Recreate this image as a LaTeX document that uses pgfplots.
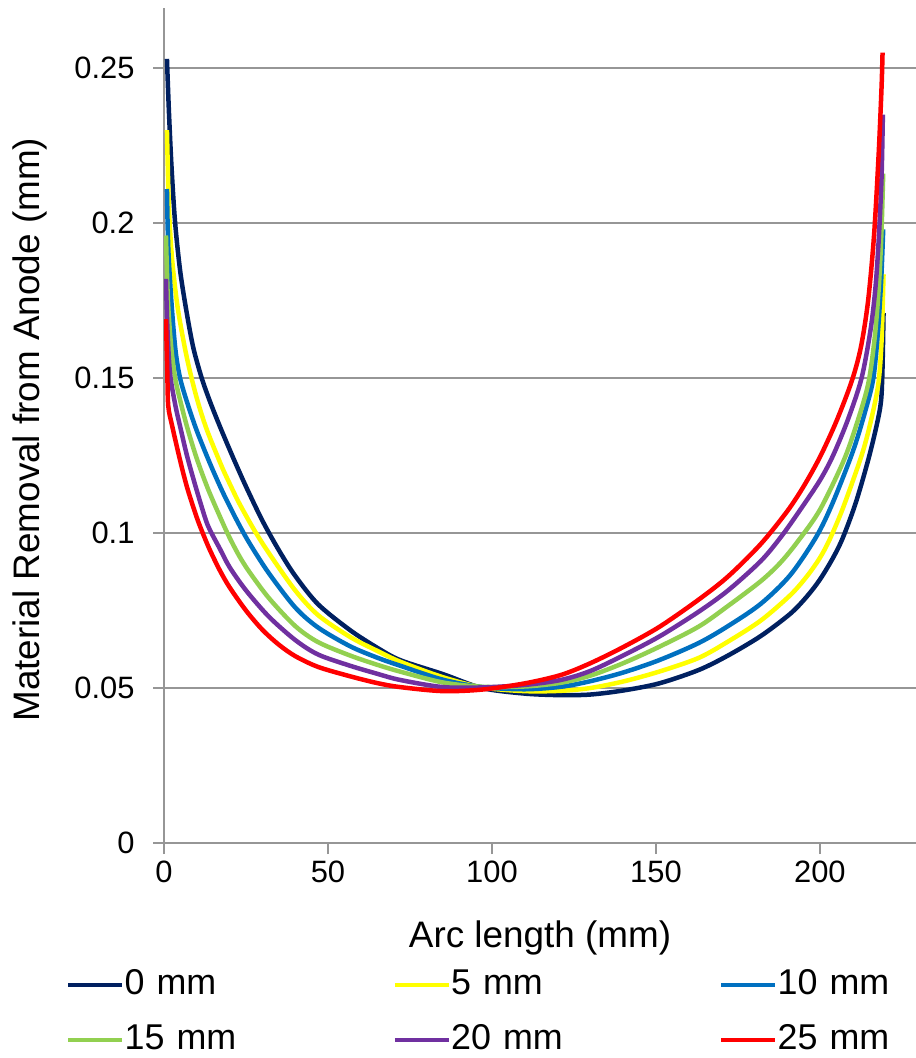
\documentclass[border=0pt]{standalone}
\usepackage{pgfplots}
\pgfplotsset{compat=1.18}
\usepackage{fontspec}
\setmainfont{Liberation Sans}
\definecolor{c0}{RGB}{0,32,96}
\definecolor{c5}{RGB}{255,255,0}
\definecolor{c10}{RGB}{0,112,192}
\definecolor{c15}{RGB}{146,208,80}
\definecolor{c20}{RGB}{112,48,160}
\definecolor{c25}{RGB}{255,0,0}
\definecolor{gridgray}{RGB}{150,150,150}
\begin{document}
\begin{tikzpicture}
\useasboundingbox (0,0) rectangle (916bp,1058bp);
\begin{axis}[
 at={(164bp,215bp)}, anchor=south west,
 scale only axis, width=752bp, height=835bp,
 xmin=0, xmax=229.3, ymin=0, ymax=0.2694,
 axis x line*=bottom, axis y line*=left,
 axis line style={draw=gridgray, line width=1.5bp},
 xtick={0,50,100,150,200},
 ytick={0,0.05,0.1,0.15,0.2,0.25},
 ymajorgrids, major grid style={draw=gridgray, line width=1.5bp},
 tick align=outside, major tick length=11bp,
 tick style={draw=gridgray, line width=1.5bp},
 ticklabel style={font=\fontsize{31}{37}\selectfont},
 /pgf/number format/assume math mode=true,
 yticklabel style={/pgf/number format/fixed, /pgf/number format/precision=2, xshift=-15bp},
 xticklabel style={yshift=-3bp},
 xlabel={Arc length (mm)}, ylabel={Material Removal from Anode (mm)},
 every axis x label/.style={at={(axis description cs:0.5,-0.114)}, anchor=center, font=\fontsize{37}{44}\selectfont},
 every axis y label/.style={at={(axis description cs:-0.178,0.495)}, rotate=90, anchor=center, font=\fontsize{37}{44}\selectfont},
 legend columns=3,
 legend style={draw=none, fill=none, at={(axis description cs:-0.1303,-0.150)}, anchor=north west, inner sep=0pt, font=\fontsize{36}{43}\selectfont, nodes={inner sep=0pt, text width=268bp, text height=26bp, text depth=7bp, align=left}, /tikz/row sep=22bp},
 legend cell align=left,
 legend image code/.code={\draw[#1] (0bp,0bp) -- (54bp,0bp);},
]
\addplot[c0, line width=4.5bp, smooth, tension=0.5] coordinates {(0.9,0.253) (1.5,0.236) (2.3,0.218) (3.4,0.200) (5,0.184) (7.1,0.170) (9,0.1595) (11.5,0.150) (14,0.1425) (17,0.1345) (21,0.1245) (25,0.1150) (30,0.1040) (35,0.0945) (40,0.0862) (47,0.0770) (56.7,0.0687) (65,0.063) (72,0.059) (85,0.0545) (97,0.050) (110,0.0482) (121,0.0477) (130,0.0479) (140,0.0492) (151,0.0515) (163,0.0558) (172,0.0605) (182,0.0668) (191,0.0740) (196,0.0795) (200,0.0850) (204,0.0920) (207,0.0985) (211,0.1100) (215.2,0.1255) (218.3,0.1400) (219,0.150) (219.4,0.171)};
\addlegendentry{0 mm}
\addplot[c5, line width=4.5bp, smooth, tension=0.5] coordinates {(0.9,0.230) (1.5,0.205) (2.5,0.188) (4,0.174) (5.5,0.1645) (7.4,0.1545) (10,0.1435) (13,0.1335) (17.6,0.1215) (20,0.1160) (23,0.1095) (27.5,0.1010) (32,0.0935) (40,0.0815) (47,0.0735) (56.7,0.0665) (65,0.0620) (72,0.0585) (85,0.0535) (97,0.0502) (110,0.0490) (121,0.0491) (130,0.0500) (140,0.0521) (151,0.0553) (163,0.0597) (172,0.0650) (182,0.0718) (191,0.0800) (196,0.0860) (200,0.0920) (203,0.0980) (207,0.1080) (212.7,0.1250) (215.5,0.1360) (217.8,0.1480) (218.8,0.1620) (219.4,0.1835)};
\addlegendentry{5 mm}
\addplot[c10, line width=4.5bp, smooth, tension=0.5] coordinates {(0.9,0.211) (1.3,0.192) (2.3,0.174) (3.5,0.159) (4.9,0.150) (7.1,0.1420) (10,0.1330) (14,0.1225) (18,0.1130) (22.5,0.1035) (26.2,0.0965) (32,0.0870) (40,0.0760) (47,0.0695) (56.7,0.0635) (65,0.0598) (72,0.0572) (85,0.0527) (97,0.0503) (110,0.0496) (121,0.0504) (130,0.0522) (140,0.0550) (151,0.0590) (163,0.0645) (172,0.0700) (182,0.0772) (191,0.0865) (199,0.0990) (204,0.110) (210.2,0.1268) (214,0.140) (216.3,0.150) (217.7,0.165) (218.7,0.182) (219.3,0.198)};
\addlegendentry{10 mm}
\addplot[c15, line width=4.5bp, smooth, tension=0.5] coordinates {(0.6,0.196) (1.2,0.175) (2.2,0.160) (3.4,0.150) (5,0.1425) (7.1,0.1340) (10,0.1240) (13.5,0.1140) (17.6,0.1040) (20,0.0985) (23,0.0925) (26,0.0875) (32,0.0790) (40,0.0700) (47,0.0648) (56.7,0.0605) (65,0.0575) (72,0.0553) (85,0.0518) (97,0.0504) (110,0.0505) (121,0.0517) (130,0.0540) (140,0.0580) (151,0.0633) (163,0.0698) (172,0.0765) (182,0.0845) (188,0.0905) (193.4,0.0975) (200,0.1075) (207.1,0.1230) (211,0.1345) (214.7,0.1480) (216.7,0.1630) (218,0.1800) (218.8,0.1980) (219.3,0.216)};
\addlegendentry{15 mm}
\addplot[c20, line width=4.5bp, smooth, tension=0.5] coordinates {(0.6,0.182) (0.9,0.170) (1.4,0.158) (2.0,0.150) (3.5,0.141) (5,0.134) (7,0.125) (9.5,0.1155) (12.5,0.105) (14,0.1010) (17,0.0950) (20,0.089) (25,0.0815) (32,0.0730) (40,0.0655) (47,0.0608) (56.7,0.0572) (65,0.0546) (72,0.0526) (85,0.0503) (97,0.0502) (110,0.0510) (121,0.0526) (130,0.0555) (140,0.0605) (151,0.0666) (163,0.0746) (172,0.0815) (182,0.0910) (188.3,0.0990) (194,0.1075) (200,0.1170) (204,0.1250) (208.5,0.1365) (212.7,0.1500) (215.5,0.1660) (217,0.1800) (218,0.1960) (218.8,0.2150) (219.2,0.235)};
\addlegendentry{20 mm}
\addplot[c25, line width=4.5bp, smooth, tension=0.5] coordinates {(0.6,0.169) (1.0,0.152) (1.3,0.141) (2.5,0.1345) (4.9,0.1235) (7.1,0.1145) (10,0.1050) (12,0.0995) (14,0.0945) (17,0.0880) (20,0.0825) (25,0.0750) (30,0.0688) (35,0.0640) (40,0.0603) (47,0.0568) (56.7,0.0538) (65,0.0516) (72,0.0503) (85,0.0490) (97,0.0495) (110,0.0515) (121,0.0542) (130,0.0580) (140,0.0632) (151,0.0697) (163,0.0785) (172,0.0860) (182,0.0965) (190,0.1070) (195,0.1150) (200,0.1245) (205,0.1360) (209.7,0.1490) (212.5,0.1600) (214.7,0.1750) (216.5,0.1960) (217.9,0.2220) (218.8,0.2440) (219.1,0.255)};
\addlegendentry{25 mm}
\end{axis}
\end{tikzpicture}
\end{document}
